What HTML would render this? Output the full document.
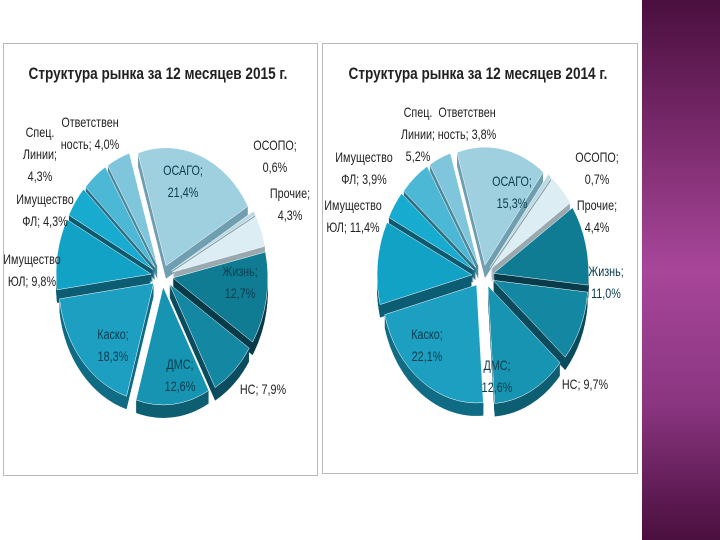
<!DOCTYPE html>
<html><head><meta charset="utf-8"><style>
body{margin:0;width:720px;height:540px;background:#fff;position:relative;overflow:hidden;font-family:"Liberation Sans","DejaVu Sans",sans-serif}
.panel{position:absolute;border:1px solid #bbb;background:#fff}
#strip{position:absolute;left:642px;top:0;width:78px;height:540px;background:linear-gradient(180deg,#4a0f3e 0%,#7a2a6c 25%,#a8469a 50%,#8a3580 75%,#4a0f3e 100%)}
</style></head><body>
<div id="strip"></div>
<div class="panel" style="left:3px;top:43px;width:313px;height:431px"></div>
<div class="panel" style="left:322px;top:43px;width:314px;height:429px"></div>
<svg id="svg" width="720" height="540" style="position:absolute;left:0;top:0"></svg>
<script>
const categories=["ОСАГО","ОСОПО","Прочие","Жизнь","НС","ДМС","Каско","Имущество ЮЛ","Имущество ФЛ","Спец. линии","Ответственность"];
const values2015=[21.4,0.6,4.3,12.7,7.9,12.6,18.3,9.8,4.3,4.3,4.0];
const values2014=[15.3,0.7,4.4,11.0,9.7,12.6,22.1,11.4,3.9,5.2,3.8];
const labels2015=[["ОСАГО;","21,4%"],["ОСОПО;","0,6%"],["Прочие;","4,3%"],["Жизнь;","12,7%"],["НС; 7,9%"],["ДМС;","12,6%"],["Каско;","18,3%"],["Имущество","ЮЛ; 9,8%"],["Имущество","ФЛ; 4,3%"],["Спец.","Линии;","4,3%"],["Ответствен","ность; 4,0%"]];
const labels2014=[["ОСАГО;","15,3%"],["ОСОПО;","0,7%"],["Прочие;","4,4%"],["Жизнь;","11,0%"],["НС; 9,7%"],["ДМС;","12,6%"],["Каско;","22,1%"],["Имущество","ЮЛ; 11,4%"],["Имущество","ФЛ; 3,9%"],["Спец.","Линии;","5,2%"],["Ответствен","ность; 3,8%"]];
const titles=["Структура рынка за 12 месяцев 2015  г.","Структура рынка за 12 месяцев 2014 г."];
const topColors=["#9fd0e0","#bcd9e4","#dcedf3","#0f7c93","#1488a3","#1794b2","#1d9fc2","#12a2c6","#18abd0","#4db7d6","#7fc6dc"];
const sideColors=["#6f9fb0","#8aa5b0","#9aa9b0","#093c4a","#0b4c5e","#0e5e72","#106c84","#0d5d73","#0c5a70","#2a6f84","#4a8a9c"];
const NS="http://www.w3.org/2000/svg";
const svg=document.getElementById('svg');
const insideIdx=[0,3,5,6];
const pos2015=[[183,175],[275,150],[290,198],[240,276],[263,394],[180,369],[113,339],[32,264],[45,204],[40,137],[90,127]];
const pos2014=[[512,186],[597,162],[597,210],[606,276],[585,389],[497,370],[427,339],[353,210],[364,162],[418,117],[467,117]];
function el(t,a){const e=document.createElementNS(NS,t);for(const k in a)e.setAttribute(k,a[k]);return e;}
function drawPie(vals,labels,pos,cx,cy,rx,ry,title,tx,key){
  const total=vals.reduce((a,b)=>a+b,0);
  const depth=13,ex=11;
  let a0=-0.3;
  const slices=[];
  vals.forEach((v,i)=>{const a1=a0+v/total*Math.PI*2;slices.push([a0,a1]);a0=a1;});
  function path(i,dy){
    const [s,e]=slices[i];const m=(s+e)/2;
    const ox=cx+ex*Math.sin(m),oy=cy-ex*Math.cos(m)+dy;
    const x1=ox+rx*Math.sin(s),y1=oy-ry*Math.cos(s),x2=ox+rx*Math.sin(e),y2=oy-ry*Math.cos(e);
    const lg=(e-s)>Math.PI?1:0;
    return `M${ox},${oy}L${x1},${y1}A${rx},${ry} 0 ${lg} 1 ${x2},${y2}Z`;
  }
  for(let d=depth;d>=1;d-=1){
    vals.forEach((v,i)=>{
      const p=el('path',{d:path(i,d),fill:sideColors[i]});
      
      
      svg.appendChild(p);
    });
  }
  vals.forEach((v,i)=>{
    const p=el('path',{d:path(i,0),fill:topColors[i],stroke:'#fff','stroke-width':'0.5'});
    
    
    svg.appendChild(p);
  });
  labels.forEach((ls,i)=>{
    const inside=insideIdx.includes(i);
    const t=el('text',{x:pos[i][0],y:pos[i][1],'text-anchor':'middle','font-size':'13.5',fill:inside?'#0b3c4c':'#222',transform:`translate(${pos[i][0]},0) scale(0.8,1) translate(${-pos[i][0]},0)`});
    
    
    ls.forEach((l,j)=>{const s=el('tspan',{x:pos[i][0],dy:j?22:0});s.textContent=l;t.appendChild(s);});
    svg.appendChild(t);
  });
  const tt=el('text',{x:tx,y:79,'text-anchor':'middle','font-size':'17','font-weight':'bold',fill:'#222',transform:`translate(${tx},0) scale(0.8,1) translate(${-tx},0)`});
  
  
  tt.textContent=title;svg.appendChild(tt);
}
drawPie(values2015,labels2015,pos2015,162,276,95,118,titles[0],158,'2015');
drawPie(values2014,labels2014,pos2014,483,276,95,118,titles[1],478,'2014');
</script>
</body></html>
